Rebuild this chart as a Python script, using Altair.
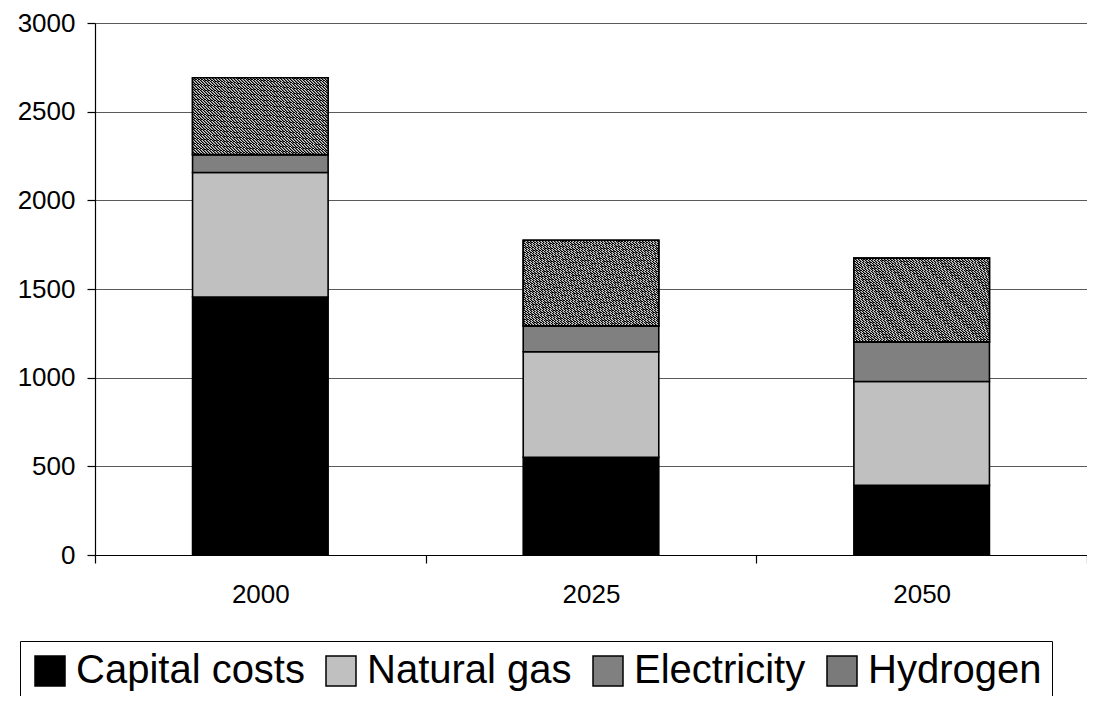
import altair as alt
import pandas as pd

years = ["2000", "2025", "2050"]
series = ["Capital costs", "Natural gas", "Electricity", "Hydrogen"]
capital_costs = [1455, 551, 393]
natural_gas = [702, 595, 585]
electricity = [101, 146, 224]
hydrogen = [433, 483, 472]
colors = ["#000000", "#c0c0c0", "#808080", "#7a7a7a"]

rows = []
for i, y in enumerate(years):
    for k, (name, vals) in enumerate(zip(series, [capital_costs, natural_gas, electricity, hydrogen])):
        rows.append({"year": y, "series": name, "order": k, "value": vals[i]})
df = pd.DataFrame(rows)

# fine diagonal hatch imitation via hard-stop gradient
N = 92
stops = []
for i in range(N):
    a, b, c, d = i / N, (i + 0.4) / N, (i + 0.7) / N, (i + 1) / N
    stops += [
        alt.GradientStop(offset=a, color="#000000"),
        alt.GradientStop(offset=b, color="#000000"),
        alt.GradientStop(offset=b, color="#707070"),
        alt.GradientStop(offset=c, color="#707070"),
        alt.GradientStop(offset=c, color="#d4d4d4"),
        alt.GradientStop(offset=d, color="#d4d4d4"),
    ]
hatch = alt.Gradient(gradient="linear", stops=stops, x1=0, y1=0, x2=1, y2=1)

base = alt.Chart(df).transform_stack(
    stack="value", groupby=["year"], sort=[alt.SortField("order", order="ascending")], as_=["v0", "v1"]
)

x_enc = alt.X(
    "year:N",
    title=None,
    sort=years,
    scale=alt.Scale(paddingInner=0, paddingOuter=0),
    axis=alt.Axis(
        labelAngle=0, labelFontSize=26, labelColor="black", labelFont="Liberation Sans",
        tickBand="extent", tickSize=8, tickColor="black", domainColor="black",
        labelPadding=18, grid=False, domainWidth=1.2, tickWidth=1.2,
    ),
)
y_enc = alt.Y(
    "v0:Q",
    title=None,
    scale=alt.Scale(domain=[0, 3000], nice=False),
    axis=alt.Axis(
        values=[0, 500, 1000, 1500, 2000, 2500, 3000], format="d", labelFontSize=26, labelColor="black",
        labelFont="Liberation Sans", tickSize=8, tickColor="black", domainColor="black",
        labelPadding=12, grid=True, gridColor="#5a5a5a", gridWidth=1, domainWidth=1.2, tickWidth=1.2,
    ),
)

bar_w = alt.RelativeBandSize(0.41)

bars = base.mark_bar(stroke="black", strokeWidth=1.6, width=bar_w).encode(
    x=x_enc,
    y=y_enc,
    y2="v1:Q",
    color=alt.Color(
        "series:N",
        sort=series,
        scale=alt.Scale(domain=series, range=colors),
        legend=alt.Legend(
            title=None, orient="none", legendX=-75, legendY=618, direction="horizontal",
            symbolType="square", symbolSize=900, symbolStrokeColor="black", symbolStrokeWidth=1.5,
            symbolOpacity=1, labelFontSize=40, labelFont="Liberation Sans", labelColor="black",
            labelOffset=6, columnPadding=16, strokeColor="black", fillColor="white", padding=10,
            labelLimit=400,
        ),
    ),
    order=alt.Order("order:Q"),
)

hyd = base.transform_filter(alt.datum.series == "Hydrogen").mark_bar(
    fill=hatch, stroke="black", strokeWidth=1.6, width=bar_w
).encode(x=alt.X("year:N", sort=years), y="v0:Q", y2="v1:Q")

chart = alt.layer(bars, hyd).properties(
    width=992, height=532,
    autosize=alt.AutoSizeParams(type="none"),
    padding={"left": 87, "top": 15, "right": 0, "bottom": 141},
).configure_view(stroke=None).configure(background="white")

chart.save("out.html", embed_options={"renderer": "svg", "actions": False})
